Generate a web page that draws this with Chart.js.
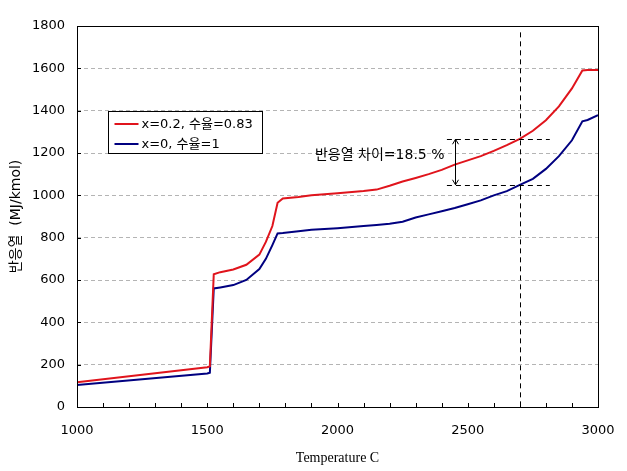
<!DOCTYPE html>
<html>
<head>
<meta charset="utf-8">
<script src="https://cdn.jsdelivr.net/npm/chart.js@4.4.0/dist/chart.umd.min.js"></script>
<style>
  html, body { margin: 0; padding: 0; background: #fff; }
  canvas { display: block; }
</style>
</head>
<body>
<canvas id="chart" width="627" height="471"></canvas>
<script>
// Reaction heat vs temperature, two feed compositions.

var temperature = [1000, 1500, 1510, 1525, 1550, 1600, 1650, 1700, 1725, 1750, 1770, 1790,
  1850, 1900, 2000, 2100, 2150, 2200, 2250, 2300, 2350, 2400, 2450, 2500, 2550, 2600,
  2650, 2700, 2750, 2800, 2850, 2900, 2940, 2960, 3000];

// x=0.2, water ratio 0.83
var heatMixed = [117, 188, 192, 627, 637, 650, 672, 720, 780, 855, 965, 985,
  992, 1000, 1010, 1020, 1027, 1045, 1065, 1082, 1100, 1120, 1145, 1165, 1185, 1210,
  1237, 1267, 1305, 1355, 1420, 1505, 1590, 1592, 1592];

// x=0, water ratio 1
var heatPure = [104, 158, 162, 560, 565, 576, 600, 652, 700, 765, 820, 822,
  830, 837, 845, 855, 860, 866, 875, 895, 910, 925, 940, 958, 976, 1000,
  1020, 1049, 1078, 1125, 1185, 1260, 1350, 1356, 1379];

var seriesLabels = ['x=0.2, 수율=0.83', 'x=0, 수율=1'];
var seriesColors = ['#e0141c', '#000080'];

// annotation: reference temperature and the gap between the two curves
var markTemperature = 2700;
var markTop = 1770;
var gapLevels = [1265, 1050];
var gapSpan = [2420, 2815];
var arrowTemperature = 2450;
var gapText = '반응열 차이=18.5 %';

var FONT = '"DejaVu Sans", "Noto Sans CJK KR", sans-serif';

function points(values) {
  return temperature.map(function(t, i) { return { x: t, y: values[i] }; });
}

// Draws the frame, inward tick marks, the dashed annotation and the legend box.
var decorations = {
  id: 'decorations',
  afterDatasetsDraw: function(chart) {
    var ctx = chart.ctx;
    var area = chart.chartArea;
    var xs = chart.scales.x;
    var ys = chart.scales.y;

    ctx.save();

    // annotation lines
    ctx.strokeStyle = '#000';
    ctx.lineWidth = 1;
    ctx.setLineDash([5, 4]);
    var vx = Math.round(xs.getPixelForValue(markTemperature)) + 0.5;
    ctx.beginPath();
    ctx.moveTo(vx, ys.getPixelForValue(markTop));
    ctx.lineTo(vx, area.bottom);
    ctx.stroke();
    gapLevels.forEach(function(level) {
      var hy = Math.round(ys.getPixelForValue(level)) + 0.5;
      ctx.beginPath();
      ctx.moveTo(xs.getPixelForValue(gapSpan[0]), hy);
      ctx.lineTo(xs.getPixelForValue(gapSpan[1]), hy);
      ctx.stroke();
    });
    ctx.setLineDash([]);

    // double-headed arrow
    var ax = Math.round(xs.getPixelForValue(arrowTemperature)) + 0.5;
    var ay1 = ys.getPixelForValue(gapLevels[0]);
    var ay2 = ys.getPixelForValue(gapLevels[1]);
    ctx.beginPath();
    ctx.moveTo(ax, ay1);
    ctx.lineTo(ax, ay2);
    ctx.moveTo(ax - 3, ay1 + 5); ctx.lineTo(ax, ay1); ctx.lineTo(ax + 3, ay1 + 5);
    ctx.moveTo(ax - 3, ay2 - 5); ctx.lineTo(ax, ay2); ctx.lineTo(ax + 3, ay2 - 5);
    ctx.stroke();

    ctx.fillStyle = '#000';
    ctx.font = '14px ' + FONT;
    ctx.textAlign = 'right';
    ctx.textBaseline = 'middle';
    ctx.fillText(gapText, ax - 11, ys.getPixelForValue(1190));

    // inward tick marks
    ctx.beginPath();
    for (var t = xs.min; t <= xs.max; t += 100) {
      var tx = Math.round(xs.getPixelForValue(t)) + 0.5;
      ctx.moveTo(tx, area.bottom);
      ctx.lineTo(tx, area.bottom - 4);
    }
    for (var v = ys.min; v <= ys.max; v += 200) {
      var ty = Math.round(ys.getPixelForValue(v)) + 0.5;
      ctx.moveTo(area.left, ty);
      ctx.lineTo(area.left + 4, ty);
    }
    ctx.stroke();

    // frame
    ctx.strokeRect(Math.round(area.left) + 0.5, Math.round(area.top) + 0.5,
      Math.round(area.right - area.left), Math.round(area.bottom - area.top));

    // legend
    var bx = 108.5, by = 111.5, bw = 154, bh = 42;
    ctx.fillStyle = '#fff';
    ctx.fillRect(bx, by, bw, bh);
    ctx.strokeStyle = '#000';
    ctx.strokeRect(bx, by, bw, bh);
    ctx.font = '13px ' + FONT;
    chart.data.datasets.forEach(function(ds, i) {
      var ly = by + 12.5 + i * 20;
      ctx.strokeStyle = ds.borderColor;
      ctx.lineWidth = 2;
      ctx.beginPath();
      ctx.moveTo(bx + 6, ly);
      ctx.lineTo(bx + 30, ly);
      ctx.stroke();
      ctx.fillStyle = '#000';
      ctx.textAlign = 'left';
      ctx.fillText(ds.label, bx + 33, ly + 1);
    });

    ctx.restore();
  }
};

function plainNumber(value) { return String(value); }

new Chart(document.getElementById('chart'), {
  type: 'line',
  data: {
    datasets: [
      { label: seriesLabels[0], data: points(heatMixed), borderColor: seriesColors[0],
        borderWidth: 2, pointRadius: 0, tension: 0, fill: false },
      { label: seriesLabels[1], data: points(heatPure), borderColor: seriesColors[1],
        borderWidth: 2, pointRadius: 0, tension: 0, fill: false }
    ]
  },
  options: {
    responsive: false,
    animation: false,
    layout: { padding: { top: 26, right: 29, left: 0, bottom: 0 } },
    plugins: {
      legend: { display: false },
      tooltip: { enabled: false }
    },
    scales: {
      x: {
        type: 'linear',
        min: 1000, max: 3000,
        afterFit: function(scale) {
          scale.height = 64;
          scale.paddingLeft = 0;
          scale.paddingRight = 0;
        },
        grid: { display: false, drawTicks: false },
        border: { display: false },
        ticks: { stepSize: 500, padding: 16, maxRotation: 0, color: '#000',
                 font: { family: FONT, size: 13 }, callback: plainNumber },
        title: { display: true, text: 'Temperature C', color: '#000',
                 font: { family: '"Liberation Serif", serif', size: 14 },
                 padding: { top: 0, bottom: 4 } }
      },
      y: {
        min: 0, max: 1800,
        afterFit: function(scale) {
          scale.width = 77;
          scale.paddingTop = 0;
          scale.paddingBottom = 0;
        },
        grid: { color: '#b4b4b4', drawTicks: false },
        border: { display: false, dash: [4, 3] },
        ticks: { stepSize: 200, padding: 12, color: '#000',
                 font: { family: FONT, size: 13 }, callback: plainNumber },
        title: { display: true, text: '반응열  (MJ/kmol)', color: '#000',
                 font: { family: FONT, size: 14 },
                 padding: { top: 8, bottom: 0 } }
      }
    }
  },
  plugins: [decorations]
});
</script>
</body>
</html>
